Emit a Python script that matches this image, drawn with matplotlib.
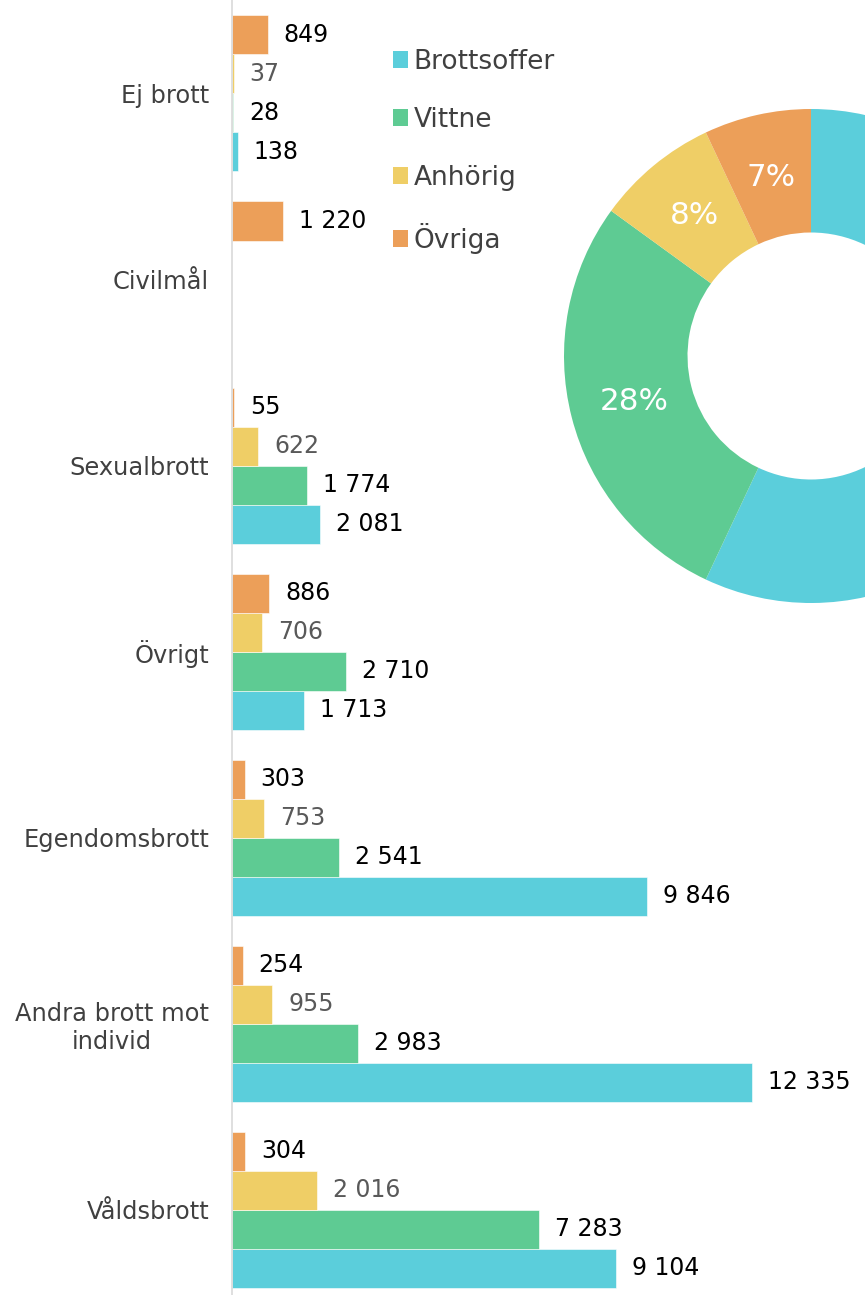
import numpy as np
import matplotlib.pyplot as plt
from matplotlib.patches import Patch

# Kategorier (nerifrån och upp)
categories = ['Våldsbrott', 'Andra brott mot\nindivid', 'Egendomsbrott', 'Övrigt',
              'Sexualbrott', 'Civilmål', 'Ej brott']
series = ['Brottsoffer', 'Vittne', 'Anhörig', 'Övriga']

brottsoffer = [9104, 12335, 9846, 1713, 2081, np.nan, 138]
vittne = [7283, 2983, 2541, 2710, 1774, np.nan, 28]
anhorig = [2016, 955, 753, 706, 622, np.nan, 37]
ovriga = [304, 254, 303, 886, 55, 1220, 849]

# Andelar i ringdiagrammet (%)
pie_pct = [57, 28, 8, 7]

colors = ['#5BCEDB', '#5ECB93', '#EFCE66', '#EC9F59']
label_colors = ['black', 'black', '#595959', 'black']

fig = plt.figure(figsize=(8.65, 12.95), dpi=100)
ax = fig.add_axes([232 / 865, 0, 1 - 232 / 865, 1])

y = np.arange(len(categories))
h = 0.2096
data = [brottsoffer, vittne, anhorig, ovriga]
for i, vals in enumerate(data):
    vals = np.array(vals, dtype=float)
    bars = ax.barh(y + (i - 1.5) * h, vals, height=h, color=colors[i],
                   edgecolor='white', linewidth=0.4, label=series[i])
    labels = ['' if np.isnan(v) else f'{int(v):,}'.replace(',', ' ') for v in vals]
    ax.bar_label(bars, labels=labels, padding=11.5, fontsize=17,
                 color=label_colors[i])

ax.set_xlim(0, 15015)
ax.set_ylim(-0.457, 6.502)
ax.set_yticks(y)
ax.set_yticklabels(categories, fontsize=17.4, color='#404040')
for lab in ax.get_yticklabels():
    lab.set_multialignment('center')
ax.tick_params(axis='y', length=0, pad=16.5)
ax.set_xticks([])
for s in ['top', 'right', 'bottom']:
    ax.spines[s].set_visible(False)
ax.spines['left'].set_color('#D9D9D9')
ax.spines['left'].set_linewidth(1.2)

# Ringdiagram, delvis utanför bilden
R = 247
cx, cy = 811, 356
pax = fig.add_axes([(cx - R) / 865, (1295 - cy - R) / 1295, 2 * R / 865, 2 * R / 1295])
wedges, texts, autotexts = pax.pie(pie_pct, colors=colors, startangle=90, counterclock=False,
                                   radius=1, wedgeprops=dict(width=0.5),
                                   autopct='%d%%', pctdistance=0.74,
                                   textprops=dict(color='white', fontsize=22.3))
# etiketten för Brottsoffer hamnar utanför bilden
autotexts[0].set_visible(False)
pax.set_xlim(-1, 1)
pax.set_ylim(-1, 1)
pax.set_aspect('equal')
pax.axis('off')

handles = [Patch(facecolor=c, edgecolor='none') for c in colors]
fig.legend(handles, series, loc='upper left', bbox_to_anchor=(382 / 865, 1 - 38 / 1295),
           frameon=False, fontsize=19, labelcolor='#404040', handlelength=0.6,
           handleheight=0.6, handletextpad=0.2, labelspacing=1.22, borderaxespad=0)

fig.savefig('out.png', dpi=100)
